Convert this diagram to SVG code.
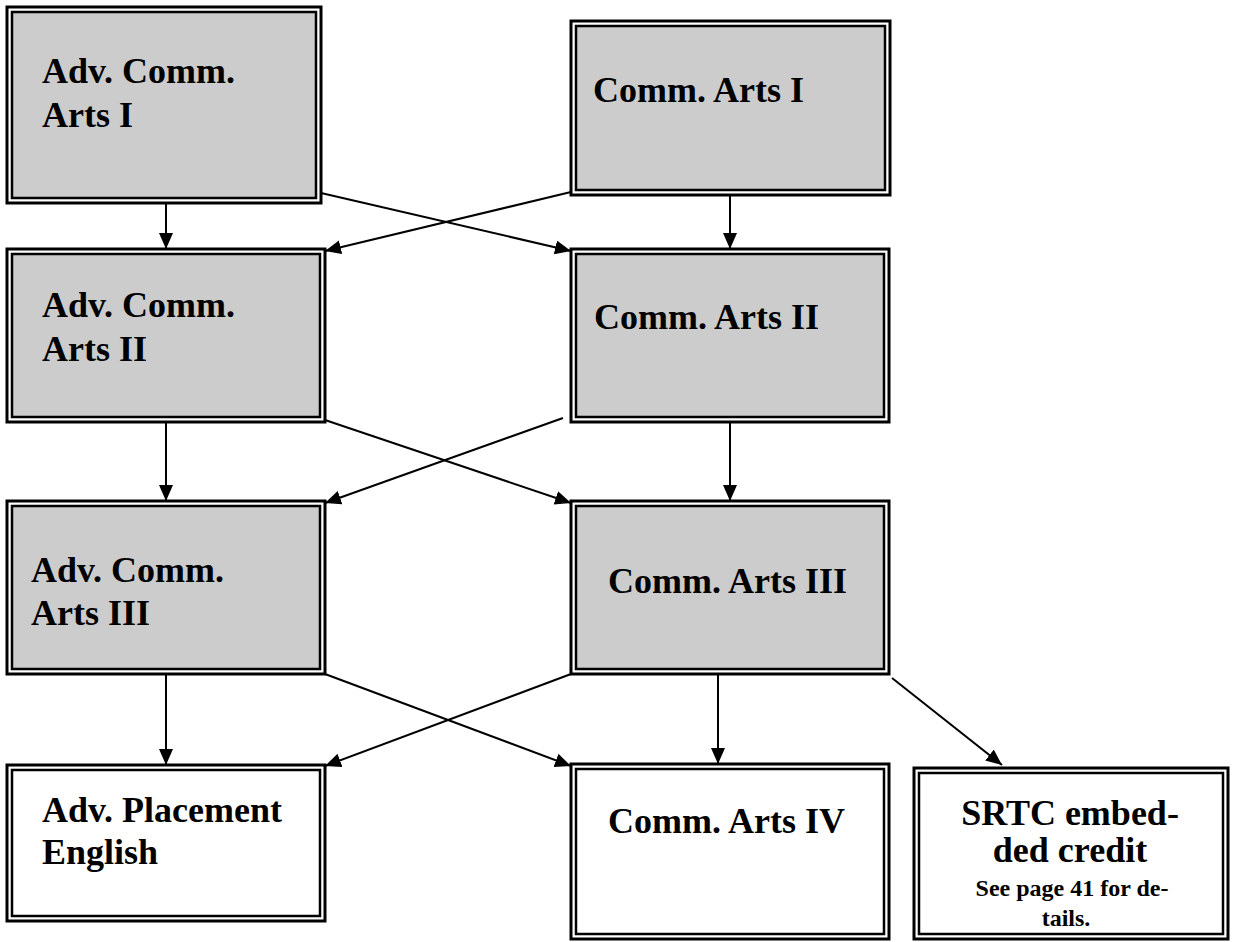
<svg xmlns="http://www.w3.org/2000/svg" width="1233" height="942" viewBox="0 0 1233 942">
<style>
.outer{fill:#ffffff;stroke:#000;stroke-width:3}
.inner{stroke:#000;stroke-width:2.5}
.gray{fill:#cccccc}
.white{fill:#ffffff}
.t{font-family:"Liberation Serif","Times New Roman",serif;font-weight:bold;font-size:36px;fill:#000}
.s{font-family:"Liberation Serif","Times New Roman",serif;font-weight:bold;font-size:24px;fill:#000}
.c{stroke:#000;stroke-width:2;fill:none;marker-end:url(#ah)}
</style>
<defs>
<marker id="ah" markerUnits="userSpaceOnUse" markerWidth="18" markerHeight="16" refX="16" refY="7" orient="auto">
<path d="M0,0 L16,7 L0,14 Z" fill="#000"/>
</marker>
</defs>
<rect width="1233" height="942" fill="#fff"/>
<g id="connectors">
<line class="c" x1="166" y1="190" x2="166" y2="249"/>
<line class="c" x1="730" y1="195" x2="730" y2="249"/>
<line class="c" x1="321" y1="193" x2="571" y2="251"/>
<line class="c" x1="571" y1="192" x2="325" y2="251"/>
<line class="c" x1="166" y1="420" x2="166" y2="501"/>
<line class="c" x1="730" y1="420" x2="730" y2="501"/>
<line class="c" x1="325" y1="420" x2="571" y2="503"/>
<line class="c" x1="563" y1="418" x2="325" y2="503"/>
<line class="c" x1="166" y1="672" x2="166" y2="765"/>
<line class="c" x1="325" y1="674" x2="571" y2="766"/>
<line class="c" x1="571" y1="674" x2="325" y2="766"/>
<line class="c" x1="718" y1="672" x2="718" y2="764"/>
<line class="c" x1="892" y1="678" x2="1002" y2="765"/>
</g>
<g id="n1">
<rect class="outer" x="7" y="7" width="314" height="196"/>
<rect class="inner gray" x="12" y="12" width="304" height="186"/>
<text class="t" x="42" y="83">Adv. Comm.</text>
<text class="t" x="42" y="127">Arts I</text>
</g>
<g id="n2">
<rect class="outer" x="571" y="21" width="319" height="174"/>
<rect class="inner gray" x="576" y="26" width="309" height="164"/>
<text class="t" x="593" y="102">Comm. Arts I</text>
</g>
<g id="n3">
<rect class="outer" x="7" y="249" width="318" height="173"/>
<rect class="inner gray" x="12" y="254" width="308" height="163"/>
<text class="t" x="42" y="317">Adv. Comm.</text>
<text class="t" x="42" y="361">Arts II</text>
</g>
<g id="n4">
<rect class="outer" x="571" y="249" width="318" height="173"/>
<rect class="inner gray" x="576" y="254" width="308" height="163"/>
<text class="t" x="594" y="329">Comm. Arts II</text>
</g>
<g id="n5">
<rect class="outer" x="7" y="501" width="318" height="173"/>
<rect class="inner gray" x="12" y="506" width="308" height="163"/>
<text class="t" x="31" y="582">Adv. Comm.</text>
<text class="t" x="31" y="625">Arts III</text>
</g>
<g id="n6">
<rect class="outer" x="571" y="501" width="318" height="173"/>
<rect class="inner gray" x="576" y="506" width="308" height="163"/>
<text class="t" x="608" y="593">Comm. Arts III</text>
</g>
<g id="n7">
<rect class="outer" x="7" y="765" width="318" height="156"/>
<rect class="inner white" x="12" y="770" width="308" height="146"/>
<text class="t" x="42" y="822">Adv. Placement</text>
<text class="t" x="42" y="864">English</text>
</g>
<g id="n8">
<rect class="outer" x="571" y="764" width="318" height="175"/>
<rect class="inner white" x="576" y="769" width="308" height="165"/>
<text class="t" x="608" y="833">Comm. Arts IV</text>
</g>
<g id="n9">
<rect class="outer" x="914" y="768" width="314" height="171"/>
<rect class="inner white" x="919" y="773" width="304" height="161"/>
<text class="t" x="1070" y="825" text-anchor="middle">SRTC embed-</text>
<text class="t" x="1070" y="862" text-anchor="middle">ded credit</text>
<text class="s" x="1072" y="896" text-anchor="middle">See page 41 for de-</text>
<text class="s" x="1066" y="926" text-anchor="middle">tails.</text>
</g>
</svg>
